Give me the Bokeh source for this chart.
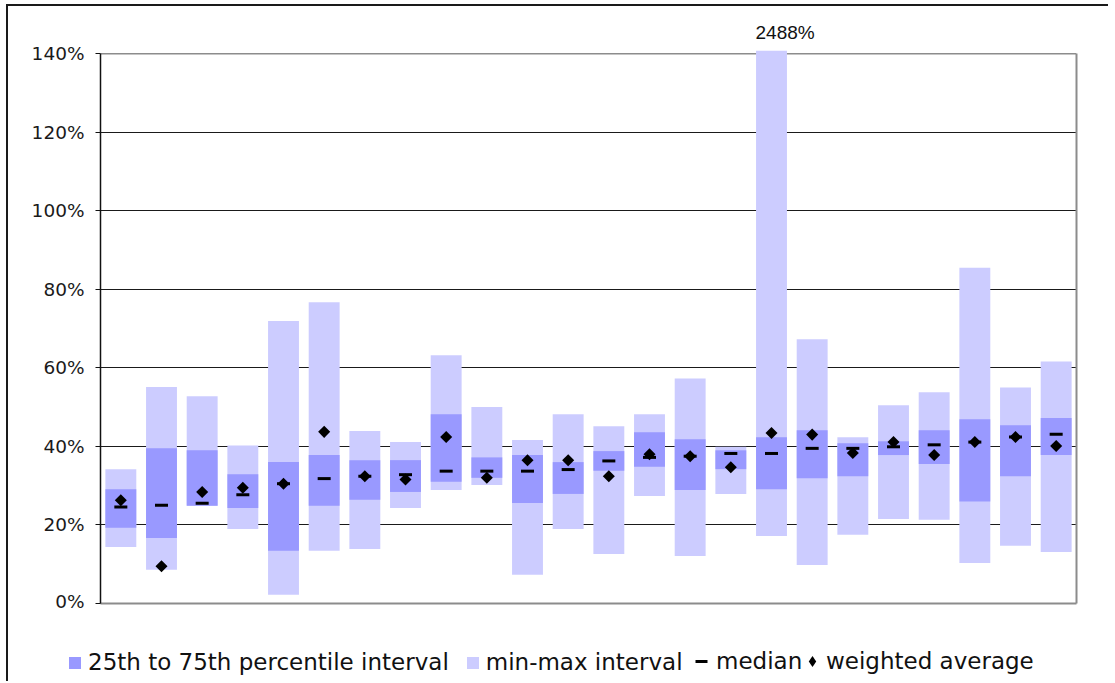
import math
from bokeh.plotting import figure
from bokeh.layouts import column
from bokeh.models import (Range1d, FixedTicker, PrintfTickFormatter, Span, LinearAxis,
                          Legend, LegendItem, ColumnDataSource)
from bokeh.embed import file_html
from bokeh.resources import INLINE

# ---------------- data (percent) ----------------
categories = list(range(1, 25))
min_vals = [14.4, 8.6, 24.9, 19.0, 2.2, 13.4, 13.9, 24.3, 28.9, 30.2, 7.3, 19.0,
            12.6, 27.4, 12.1, 27.9, 17.2, 9.8, 17.5, 21.5, 21.3, 10.3, 14.7, 13.1]
q1_vals = [19.3, 16.7, 24.9, 24.3, 13.4, 24.9, 26.4, 28.4, 31.0, 32.0, 25.6, 27.9,
           33.8, 34.8, 28.9, 34.2, 29.1, 31.9, 32.4, 37.8, 35.5, 26.0, 32.4, 37.8]
median_vals = [24.6, 25.0, 25.5, 27.7, 30.5, 31.8, 32.4, 32.8, 33.7, 33.7, 33.7, 34.1,
               36.3, 37.2, 37.5, 38.2, 38.2, 39.5, 39.5, 39.9, 40.4, 41.1, 42.4, 43.1]
q3_vals = [29.1, 39.5, 39.0, 32.9, 36.0, 37.8, 36.5, 36.5, 48.2, 37.2, 37.8, 36.0,
           38.8, 43.6, 41.8, 39.0, 42.3, 44.1, 40.8, 41.3, 44.1, 46.9, 45.4, 47.2]
max_vals = [34.2, 55.1, 52.8, 40.2, 71.9, 76.7, 43.9, 41.1, 63.2, 50.0, 41.6, 48.2,
            45.1, 48.2, 57.3, 39.9, 2488.0, 67.3, 42.3, 50.5, 53.8, 85.5, 55.0, 61.6]
wavg_vals = [26.3, 9.5, 28.4, 29.5, 30.5, 43.7, 32.4, 31.6, 42.4, 32.0, 36.5, 36.5,
             32.4, 38.0, 37.5, 34.7, 43.4, 43.0, 38.3, 41.1, 37.8, 41.1, 42.4, 40.1]
y_ticks = [0, 20, 40, 60, 80, 100, 120, 140]
legend_labels = ["25th to 75th percentile interval", "min-max interval",
                 "median", "weighted average"]

DARK = "#9999FF"
LIGHT = "#CCCCFF"
INK = "#111111"
BORDER = "#8c8c8c"

src = ColumnDataSource(dict(x=categories, lo=min_vals, q1=q1_vals, med=median_vals,
                            q3=q3_vals, hi=max_vals, avg=wavg_vals))

# ---------------- main chart ----------------
p = figure(width=1100, height=605, output_backend="svg", toolbar_location=None,
           x_range=Range1d(0.5, 24.5), y_range=Range1d(0, 140.8),
           min_border_left=92, min_border_right=32, min_border_top=44,
           min_border_bottom=8)
p.frame_align = False
p.outline_line_color = None
p.background_fill_color = "white"
p.border_fill_color = "white"

# grid
p.xgrid.visible = False
p.ygrid.ticker = FixedTicker(ticks=y_ticks[1:-1])
p.ygrid.grid_line_color = "#1a1a1a"
p.ygrid.grid_line_width = 1

# plot-area top border, under the bars
p.add_layout(Span(location=y_ticks[-1], dimension="width", line_color=BORDER,
                  line_width=1.5, level="underlay"))

# y axis
p.yaxis.ticker = FixedTicker(ticks=y_ticks)
p.yaxis.formatter = PrintfTickFormatter(format="%d%%")
p.yaxis.bounds = (y_ticks[0], y_ticks[-1])
p.yaxis.axis_line_color = INK
p.yaxis.axis_line_width = 1.5
p.yaxis.major_tick_line_color = INK
p.yaxis.major_tick_in = 0
p.yaxis.major_tick_out = 5
p.yaxis.minor_tick_line_color = None
p.yaxis.major_label_standoff = 11
p.yaxis.major_label_text_font = "DejaVu Sans"
p.yaxis.major_label_text_font_size = "18.5px"
p.yaxis.major_label_text_color = "#1a1a1a"

# right border as a bare axis line
right_ax = LinearAxis(ticker=FixedTicker(ticks=[]), bounds=(y_ticks[0], y_ticks[-1]),
                      axis_line_color=BORDER, axis_line_width=2,
                      major_tick_line_color=None, minor_tick_line_color=None,
                      major_tick_out=0, major_label_standoff=0,
                      major_label_text_font_size="0px")
p.add_layout(right_ax, "right")

# x axis (line only)
p.xaxis.ticker = FixedTicker(ticks=[])
p.xaxis.axis_line_color = BORDER
p.xaxis.axis_line_width = 2
p.xaxis.major_tick_line_color = None
p.xaxis.minor_tick_line_color = None
p.xaxis.major_tick_out = 0
p.xaxis.major_label_standoff = 0
p.xaxis.major_label_text_font_size = "0px"

# glyphs
r_light = p.vbar(x="x", bottom="lo", top="hi", width=0.76, source=src,
                 fill_color=LIGHT, line_color=None)
r_dark = p.vbar(x="x", bottom="q1", top="q3", width=0.76, source=src,
                fill_color=DARK, line_color=None)
r_med = p.scatter(x="x", y="med", marker="dash", size=13, source=src,
                  line_color="black", line_width=3)
r_avg = p.scatter(x="x", y="avg", marker="square", angle=math.pi / 4, size=8.5,
                  source=src, fill_color="black", line_color=None)

# off-scale value of the clipped bar, shown above the plot area
imax = max(range(len(max_vals)), key=lambda i: max_vals[i])
frame_w = 1100 - 92 - 32
cat_w = frame_w / (p.x_range.end - p.x_range.start)
p.title.text = f"{max_vals[imax]:.0f}%"
p.title.align = "left"
p.title.offset = (categories[imax] - p.x_range.start) * cat_w - 16
p.title.standoff = 16
p.title.text_font = "Liberation Sans"
p.title.text_font_size = "19px"
p.title.text_font_style = "normal"
p.title.text_color = INK

# ---------------- legend strip ----------------
lf = figure(width=1100, height=70, output_backend="svg", toolbar_location=None,
            x_range=Range1d(0, 1100), y_range=Range1d(0, 70),
            x_axis_type=None, y_axis_type=None,
            min_border_left=0, min_border_right=0, min_border_top=0, min_border_bottom=0)
lf.frame_align = False
lf.outline_line_color = None
lf.background_fill_color = "white"
lf.border_fill_color = "white"
# legend-only renderers (their single point lies outside the strip's ranges)
off = [-1000]
ld = lf.vbar(x=off, top=off, width=1, fill_color=DARK, line_color=None)
ll = lf.vbar(x=off, top=off, width=1, fill_color=LIGHT, line_color=None)
lm = lf.scatter(x=off, y=off, marker="dash", size=12, line_color="black", line_width=3)
la = lf.scatter(x=off, y=off, marker="diamond", size=12, fill_color="black",
                line_color=None)

common = dict(orientation="horizontal", padding=0, margin=0, border_line_color=None,
              background_fill_alpha=0, label_text_font="DejaVu Sans",
              label_text_font_size="23px", label_text_color=INK, label_height=15)
legA = Legend(items=[LegendItem(label=legend_labels[0], renderers=[ld]),
                     LegendItem(label=legend_labels[1], renderers=[ll])],
              location=(59, 6), glyph_width=15, glyph_height=15,
              label_standoff=6, spacing=16, **common)
legB = Legend(items=[LegendItem(label=legend_labels[2], renderers=[lm])],
              location=(678, 5), glyph_width=30, glyph_height=30,
              label_standoff=0, spacing=0, **common)
legC = Legend(items=[LegendItem(label=legend_labels[3], renderers=[la])],
              location=(790, 5), glyph_width=28, glyph_height=30,
              label_standoff=0, spacing=0, **common)
lf.add_layout(legA)
lf.add_layout(legB)
lf.add_layout(legC)

root = column(p, lf, spacing=0,
              styles={"margin-left": "6px", "margin-top": "4px",
                      "border-left": "2px solid #1a1a1a",
                      "border-top": "2px solid #1a1a1a"})

open("out.html", "w").write(file_html(root, INLINE))
